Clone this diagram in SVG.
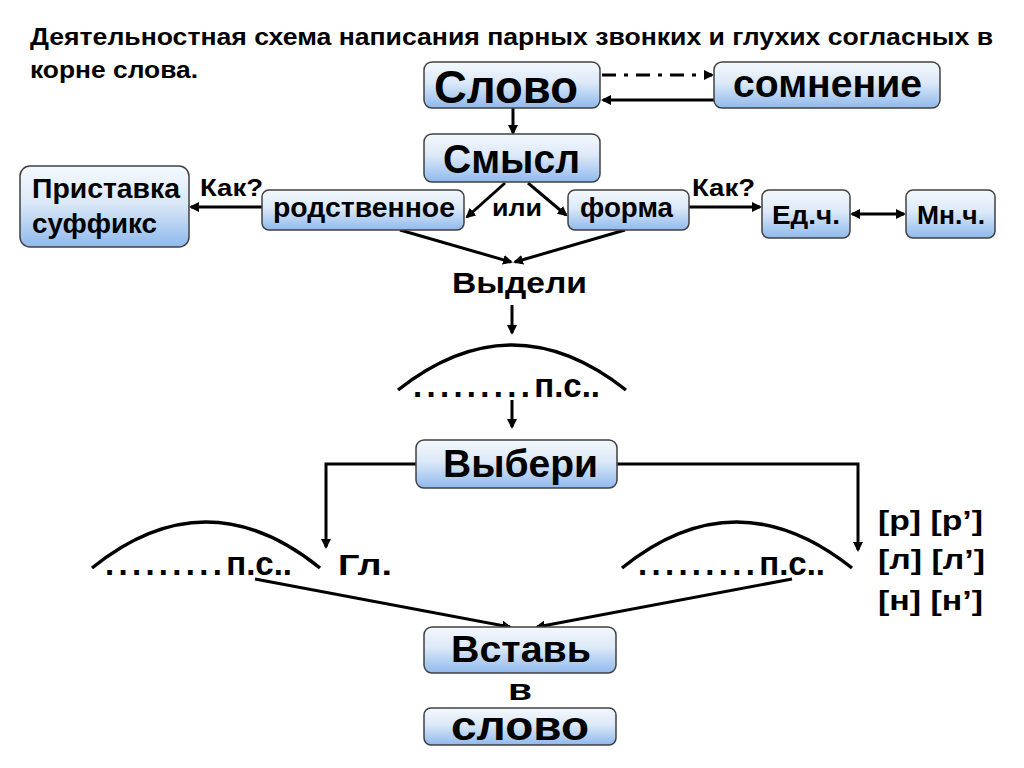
<svg xmlns="http://www.w3.org/2000/svg" width="1024" height="768" viewBox="0 0 1024 768">
<style>
text{font-family:"Liberation Sans",Arial,sans-serif;font-weight:bold;fill:#000}
.box{fill:url(#g);stroke:#404040;stroke-width:1.5}
.c{stroke:#000;stroke-width:3;fill:none}
.a{marker-end:url(#ah)}
.arc{stroke:#000;stroke-width:3.5;fill:none}
.dots{letter-spacing:4.3px}
</style>
<defs>
<linearGradient id="g" x1="0" y1="0" x2="0" y2="1">
<stop offset="0" stop-color="#f4f8fd"/>
<stop offset="0.45" stop-color="#dce9f8"/>
<stop offset="1" stop-color="#8fb9ec"/>
</linearGradient>
<marker id="ah" markerWidth="10" markerHeight="10" refX="8" refY="5" orient="auto" markerUnits="userSpaceOnUse">
<path d="M0,0 L10,5 L0,10 z" fill="#000"/>
</marker>
<marker id="as" markerWidth="10" markerHeight="10" refX="2" refY="5" orient="auto" markerUnits="userSpaceOnUse">
<path d="M10,0 L0,5 L10,10 z" fill="#000"/>
</marker>
</defs>
<rect width="1024" height="768" fill="#fff"/>
<g id="title">
<text x="30" y="45" font-size="24" textLength="963" lengthAdjust="spacingAndGlyphs">Деятельностная  схема  написания  парных  звонких и глухих согласных  в</text>
<text x="30" y="78" font-size="24" textLength="168" lengthAdjust="spacingAndGlyphs">корне  слова.</text>
</g>
<g id="connectors">
<path class="c a" d="M602,75 H712" stroke-dasharray="14,8,4,8"/>
<path class="c a" d="M714,100 H603"/>
<path class="c a" d="M513,108 V133"/>
<path class="c a" d="M262,207 H191"/>
<path class="c a" d="M505,183 L467,217"/>
<path class="c a" d="M528,183 L566,215"/>
<path class="c a" d="M689,207 H760"/>
<path class="c" d="M852,214 H904" stroke-width="2.5" marker-end="url(#ah)" marker-start="url(#as)"/>
<path class="c a" d="M400,230 L511,262"/>
<path class="c a" d="M625,230 L515,262"/>
<path class="c a" d="M512,305 V333"/>
<path class="c a" d="M512,400 V427"/>
<path class="c a" d="M416,464 H326 V547"/>
<path class="c a" d="M617,464 H858 V550"/>
<path class="c a" d="M255,579 L510,627"/>
<path class="c a" d="M792,579 L537,627"/>
</g>
<g id="arcs">
<path class="arc" d="M398,390 Q512,300 626,390"/>
<path class="arc" d="M92,568 Q206,476 320,568"/>
<path class="arc" d="M622,568 Q736,476 852,568"/>
</g>
<g id="n-slovo"><rect class="box" x="424" y="62" width="176" height="46" rx="8"/><text x="434" y="103" font-size="46" textLength="144" lengthAdjust="spacingAndGlyphs">Слово</text></g>
<g id="n-somnenie"><rect class="box" x="714" y="62" width="226" height="46" rx="8"/><text x="733" y="97" font-size="38" textLength="189" lengthAdjust="spacingAndGlyphs">сомнение</text></g>
<g id="n-smysl"><rect class="box" x="424" y="134" width="176" height="48" rx="8"/><text x="443" y="173" font-size="40" textLength="137" lengthAdjust="spacingAndGlyphs">Смысл</text></g>
<g id="n-pristavka"><rect class="box" x="20" y="166" width="169" height="81" rx="10"/><text x="32" y="198" font-size="27" textLength="148" lengthAdjust="spacingAndGlyphs">Приставка</text><text x="32" y="233" font-size="27" textLength="125" lengthAdjust="spacingAndGlyphs">суффикс</text></g>
<g id="n-rodstv"><rect class="box" x="262" y="190" width="202" height="40" rx="7"/><text x="273" y="217" font-size="27" textLength="182" lengthAdjust="spacingAndGlyphs">родственное</text></g>
<g id="n-forma"><rect class="box" x="568" y="190" width="121" height="40" rx="7"/><text x="580" y="217" font-size="27" textLength="93" lengthAdjust="spacingAndGlyphs">форма</text></g>
<g id="n-ed"><rect class="box" x="762" y="190" width="88" height="48" rx="7"/><text x="772" y="224" font-size="25" textLength="68" lengthAdjust="spacingAndGlyphs">Ед.ч.</text></g>
<g id="n-mn"><rect class="box" x="906" y="190" width="89" height="48" rx="7"/><text x="917" y="224" font-size="25" textLength="68" lengthAdjust="spacingAndGlyphs">Мн.ч.</text></g>
<g id="labels">
<text x="200" y="196" font-size="24" textLength="63" lengthAdjust="spacingAndGlyphs">Как?</text>
<text x="692" y="196" font-size="24" textLength="63" lengthAdjust="spacingAndGlyphs">Как?</text>
<text x="492" y="216" font-size="24" textLength="50" lengthAdjust="spacingAndGlyphs">или</text>
<text x="452" y="293" font-size="30" textLength="135" lengthAdjust="spacingAndGlyphs">Выдели</text>
<text x="413" y="397" font-size="33"><tspan class="dots">.........</tspan>п.с..</text>
<text x="105" y="575" font-size="33"><tspan class="dots">.........</tspan>п.с..</text>
<text x="338" y="575" font-size="30" textLength="54" lengthAdjust="spacingAndGlyphs">Гл.</text>
<text x="638" y="575" font-size="33"><tspan class="dots">.........</tspan>п.с..</text>
<text x="878" y="530" font-size="28" textLength="105" lengthAdjust="spacingAndGlyphs">[р] [р’]</text>
<text x="878" y="569" font-size="28" textLength="107" lengthAdjust="spacingAndGlyphs">[л] [л’]</text>
<text x="878" y="610" font-size="28" textLength="105" lengthAdjust="spacingAndGlyphs">[н] [н’]</text>
<text x="508" y="700" font-size="30" textLength="24" lengthAdjust="spacingAndGlyphs">в</text>
</g>
<g id="n-vyberi"><rect class="box" x="416" y="440" width="201" height="48" rx="8"/><text x="443" y="477" font-size="38" textLength="155" lengthAdjust="spacingAndGlyphs">Выбери</text></g>
<g id="n-vstav"><rect class="box" x="424" y="627" width="192" height="46" rx="8"/><text x="451" y="662" font-size="36" textLength="140" lengthAdjust="spacingAndGlyphs">Вставь</text></g>
<g id="n-slovo2"><rect class="box" x="424" y="708" width="192" height="37" rx="7"/><text x="451" y="740" font-size="40" textLength="138" lengthAdjust="spacingAndGlyphs">слово</text></g>
</svg>
